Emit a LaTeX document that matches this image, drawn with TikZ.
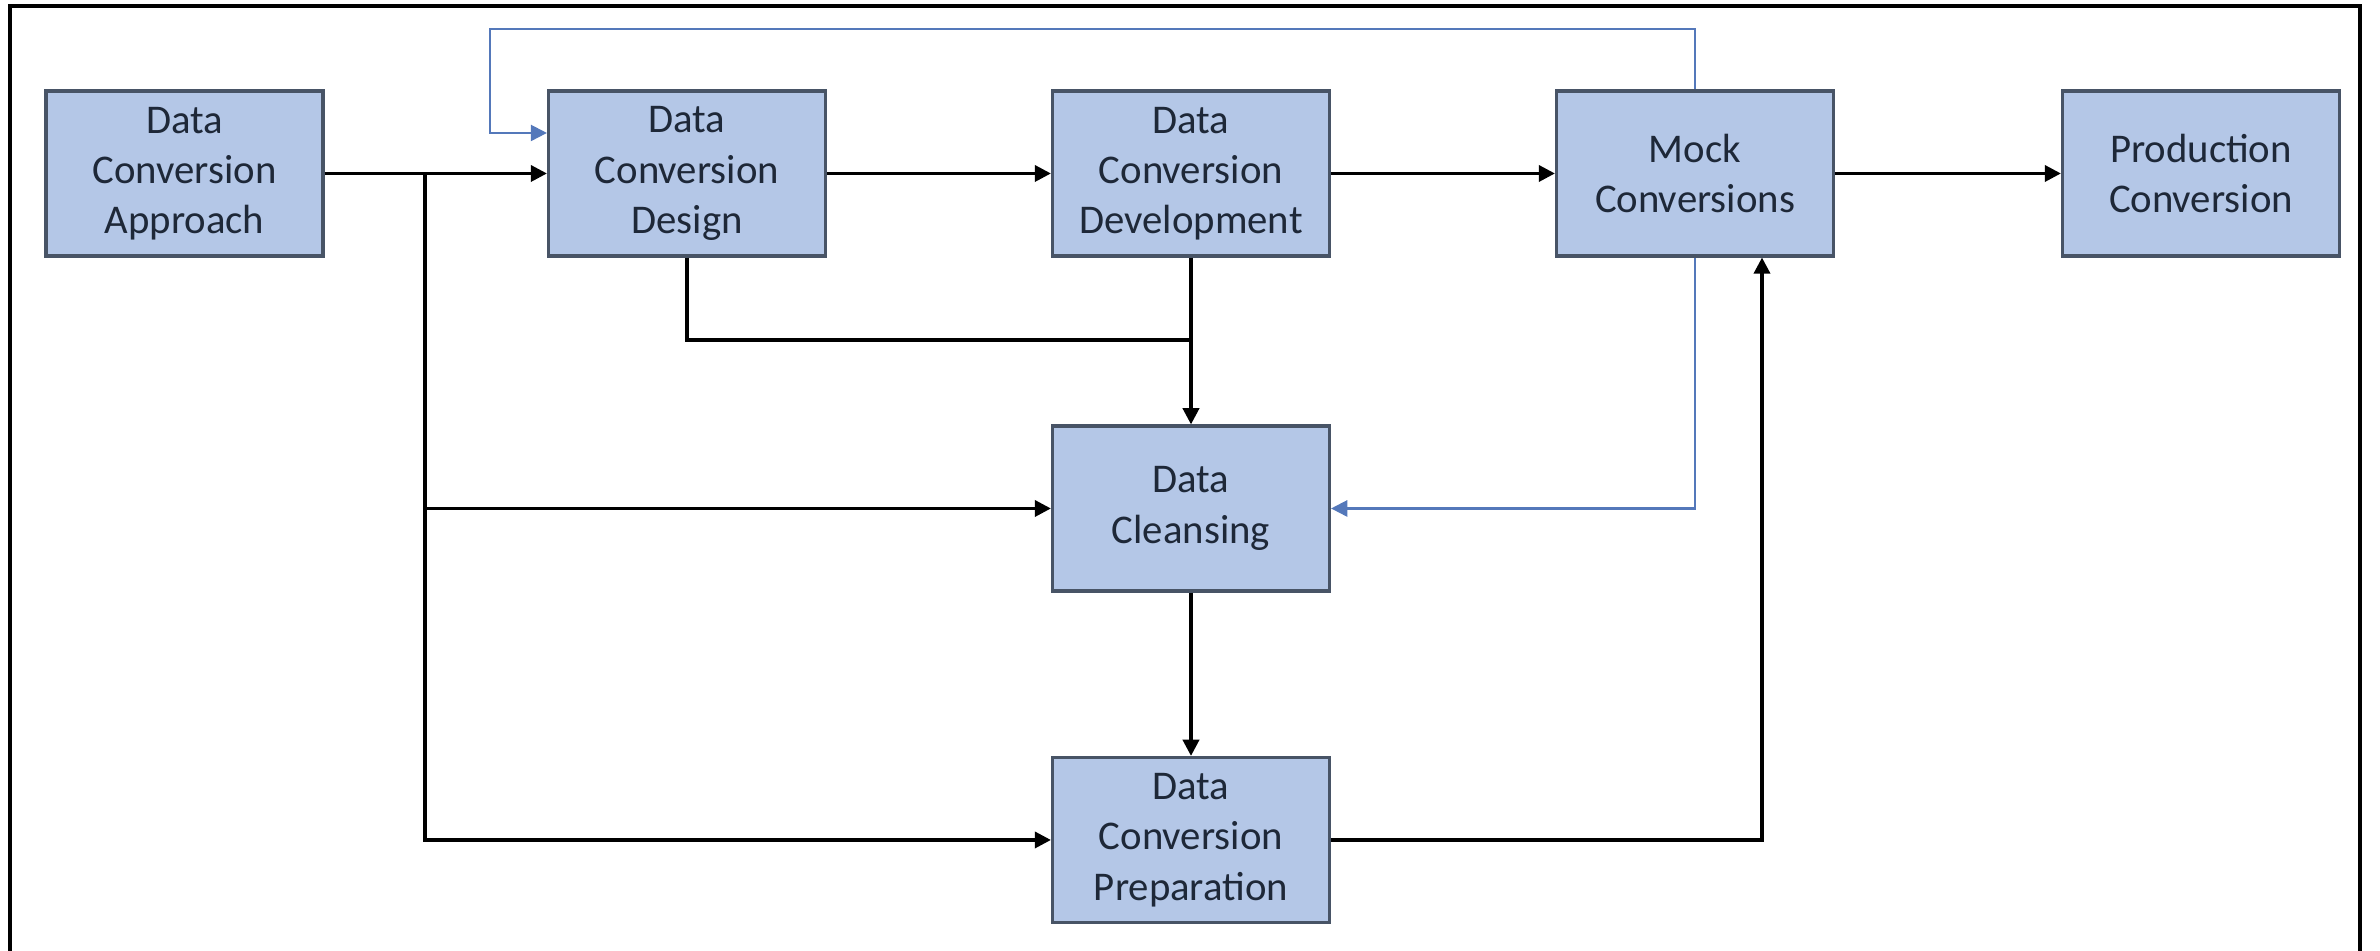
\documentclass[tikz,border=0pt]{standalone}
\usepackage{fontspec}
\setmainfont{Carlito}
\usetikzlibrary{arrows.meta}

\definecolor{boxfill}{RGB}{180,199,231}
\definecolor{boxline}{RGB}{72,84,102}
\definecolor{boxtext}{RGB}{30,40,56}
\definecolor{loopblue}{RGB}{84,120,186}

\tikzset{
  stage/.style={draw=boxline, line width=0.9pt, fill=boxfill, text=boxtext,
    minimum width=2.77cm, minimum height=1.65cm, inner sep=0pt, align=center,
    font=\fontsize{11.6}{14.3}\selectfont},
  link/.style={line width=0.95pt},
  flow/.style={link, -{Triangle[length=4.6pt,width=4.6pt]}},
  back/.style={draw=loopblue, line width=0.6pt, -{Triangle[length=4.6pt,width=4.6pt]}},
}

\begin{document}
\begin{tikzpicture}
\useasboundingbox (0,0) rectangle (23.8,9.51);

% frame
\draw[line width=0.9pt] (0.10,-0.2) -- (0.10,9.45) -- (23.60,9.45) -- (23.60,-0.2);

% top row
\node[stage] (approach) at (1.845,7.775) {Data\\Conversion\\Approach};
\node[stage] (design) at (6.87,7.775) {Data\\Conversion\\Design};
\node[stage] (devel) at (11.91,7.775) {Data\\Conversion\\Development};
\node[stage] (mock) at (16.95,7.775) {Mock\\Conversions};
\node[stage] (prod) at (22.01,7.775) {Production\\Conversion};

% lower column
\node[stage] (cleanse) at (11.91,4.425) {Data\\Cleansing};
\node[stage] (prep) at (11.91,1.11) {Data\\Conversion\\Preparation};

% helper points
\coordinate (split) at (4.25,7.775);
\coordinate (merge) at (11.91,6.11);
\coordinate (mockin) at (17.62,7.775);
\coordinate (looptop) at (4.90,9.22);

% main flow
\draw[flow] (approach) -- (design);
\draw[flow] (design) -- (devel);
\draw[flow] (devel) -- (mock);
\draw[flow] (mock) -- (prod);

% branches from the approach
\draw[flow] (split) |- (cleanse);
\draw[flow] (split) |- (prep);

% design and development into cleansing
\draw[link] (design.south) |- (merge);
\draw[flow] (devel) -- (cleanse);
\draw[flow] (cleanse) -- (prep);

% preparation up to mock conversions
\draw[flow] (prep) -| (mockin |- mock.south);

% feedback loops
\draw[back] (mock.north) |- (looptop) |- ([yshift=0.405cm]design.west);
\draw[back] (mock.south) |- (cleanse.east);

\end{tikzpicture}
\end{document}
